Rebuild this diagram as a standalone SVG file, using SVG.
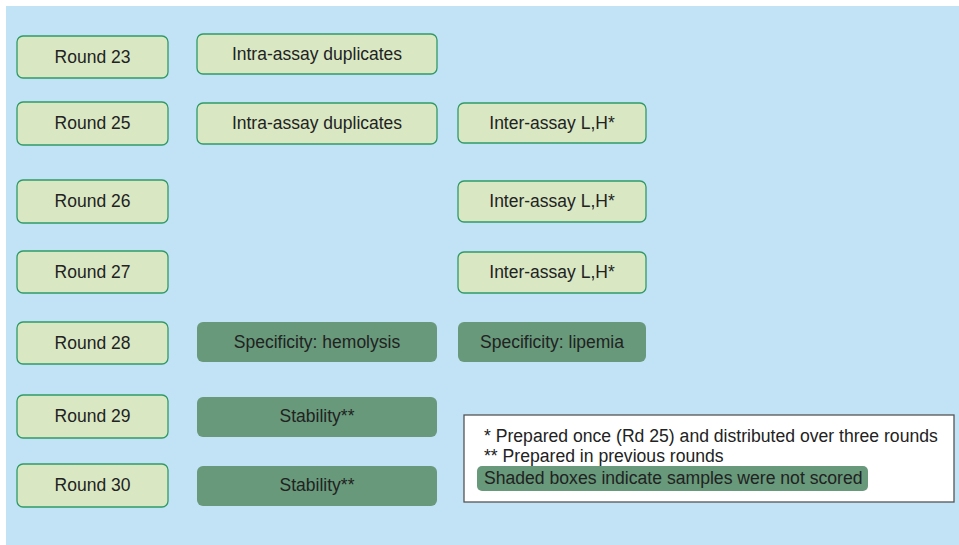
<svg xmlns="http://www.w3.org/2000/svg" width="959" height="545" viewBox="0 0 959 545">
<style>
.bg{fill:#c2e3f6}
.lt{fill:#d9e8c2;stroke:#2f9a68;stroke-width:1.3}
.dk{fill:#67997a}
text{font-family:"Liberation Sans",Arial,sans-serif;font-size:17.5px;fill:#222;text-anchor:middle}
.leg{text-anchor:start;font-size:17.6px}
</style>
<rect x="0" y="0" width="959" height="545" fill="#fff"/>
<rect class="bg" x="6" y="6" width="953" height="539"/>
<g id="r23"><rect class="lt" x="17" y="36" width="151" height="42" rx="6"/><text x="92.5" y="63">Round 23</text></g>
<g id="r25"><rect class="lt" x="17" y="102" width="151" height="43" rx="6"/><text x="92.5" y="129">Round 25</text></g>
<g id="r26"><rect class="lt" x="17" y="180" width="151" height="43" rx="6"/><text x="92.5" y="207">Round 26</text></g>
<g id="r27"><rect class="lt" x="17" y="251" width="151" height="42" rx="6"/><text x="92.5" y="278">Round 27</text></g>
<g id="r28"><rect class="lt" x="17" y="322" width="151" height="42" rx="6"/><text x="92.5" y="349">Round 28</text></g>
<g id="r29"><rect class="lt" x="17" y="395" width="151" height="43" rx="6"/><text x="92.5" y="422">Round 29</text></g>
<g id="r30"><rect class="lt" x="17" y="464" width="151" height="43" rx="6"/><text x="92.5" y="491">Round 30</text></g>
<g id="intra23"><rect class="lt" x="197" y="34" width="240" height="40" rx="6"/><text x="317" y="60">Intra-assay duplicates</text></g>
<g id="intra25"><rect class="lt" x="197" y="103" width="240" height="41" rx="6"/><text x="317" y="129">Intra-assay duplicates</text></g>
<g id="hemolysis"><rect class="dk" x="197" y="322" width="240" height="40" rx="6"/><text x="317" y="348">Specificity: hemolysis</text></g>
<g id="stab29"><rect class="dk" x="197" y="397" width="240" height="40" rx="6"/><text x="317" y="422">Stability**</text></g>
<g id="stab30"><rect class="dk" x="197" y="466" width="240" height="40" rx="6"/><text x="317" y="491">Stability**</text></g>
<g id="inter25"><rect class="lt" x="458" y="103" width="188" height="40" rx="6"/><text x="552" y="129">Inter-assay L,H*</text></g>
<g id="inter26"><rect class="lt" x="458" y="181" width="188" height="41" rx="6"/><text x="552" y="207">Inter-assay L,H*</text></g>
<g id="inter27"><rect class="lt" x="458" y="252" width="188" height="41" rx="6"/><text x="552" y="278">Inter-assay L,H*</text></g>
<g id="lipemia"><rect class="dk" x="458" y="322" width="188" height="40" rx="6"/><text x="552" y="348">Specificity: lipemia</text></g>
<g id="legend">
<rect x="464" y="415" width="490" height="87" fill="#fff" stroke="#555" stroke-width="1.3"/>
<rect class="dk" x="477" y="466" width="391" height="25" rx="5"/>
<text class="leg" x="484" y="442">* Prepared once (Rd 25) and distributed over three rounds</text>
<text class="leg" x="484" y="462">** Prepared in previous rounds</text>
<text class="leg" x="484" y="484">Shaded boxes indicate samples were not scored</text>
</g>
<g id="connectors"/>
</svg>
